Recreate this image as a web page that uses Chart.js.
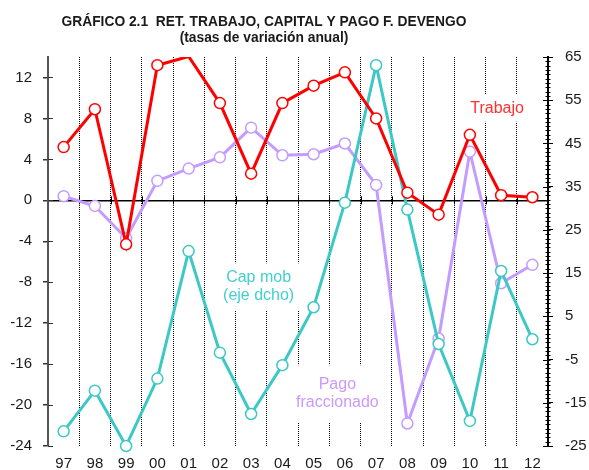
<!DOCTYPE html>
<html><head><meta charset="utf-8">
<script src="https://cdn.jsdelivr.net/npm/chart.js@4/dist/chart.umd.min.js"></script>
<style>html,body{margin:0;padding:0;background:#fff}canvas{display:block}</style>
</head><body>
<canvas id="c" width="589" height="470"></canvas>
<script>
const categories = ['97','98','99','00','01','02','03','04','05','06','07','08','09','10','11','12'];
const trabajo = [5.2, 8.9, -4.3, 13.2, 14.05, 9.5, 2.6, 9.5, 11.2, 12.5, 8.0, 0.75, -1.4, 6.4, 0.5, 0.3];
const pagoFraccionado = [0.4, -0.55, -3.7, 1.9, 3.1, 4.2, 7.1, 4.4, 4.5, 5.55, 1.5, -21.8, -13.5, 4.75, -8.1, -6.3];
const capMob = [-21.6, -12.2, -25.0, -9.4, 20.1, -3.4, -17.6, -6.3, 7.1, 31.3, 63.1, 29.7, -1.4, -19.2, 15.5, -0.3];
const leftTicks = [-24, -20, -16, -12, -8, -4, 0, 4, 8, 12];
const rightTicks = [-25, -15, -5, 5, 15, 25, 35, 45, 55, 65];
const titleLines = ['GRÁFICO 2.1  RET. TRABAJO, CAPITAL Y PAGO F. DEVENGO', '(tasas de variación anual)'];
const labelTrabajo = ['Trabajo'];
const labelCapMob = ['Cap mob', '(eje dcho)'];
const labelPago = ['Pago', 'fraccionado'];

const RED = '#ff0000', PURPLE = '#c49cff', TEAL = '#3cc8c4';
const tickFont = {family: "'Liberation Sans', Arial, sans-serif", size: 15};

const decor = {
  id: 'decor',
  beforeDatasetsDraw(chart) {
    const {ctx, chartArea: a, scales: {x, y, y1}} = chart;
    ctx.save();
    const seg = (x1, y1p, x2, y2p) => { ctx.beginPath(); ctx.moveTo(x1, y1p); ctx.lineTo(x2, y2p); ctx.stroke(); };
    const y0 = y.getPixelForValue(0);
    ctx.strokeStyle = '#000'; ctx.lineWidth = 1;
    for (let i = 0; i < categories.length - 1; i++) {
      const px = Math.round(x.getPixelForValue(i + 0.5)) + 0.5;
      seg(px, y0 - 4, px, y0 + 4);
    }
    ctx.strokeStyle = '#333';
    leftTicks.forEach(v => { const py = Math.round(y.getPixelForValue(v)) + 0.5; seg(a.left, py, a.left + 5, py); });
    ctx.strokeStyle = '#000';
    rightTicks.forEach(v => { const py = Math.round(y1.getPixelForValue(v)) + 0.5; seg(a.right - 5, py, a.right, py); });
    ctx.strokeStyle = '#000'; ctx.lineWidth = 1;
    for (let v = rightTicks[0]; v <= rightTicks[rightTicks.length - 1]; v += 1) {
      const py = Math.round(y1.getPixelForValue(v)) + 0.5;
      seg(a.right - 2.5, py, a.right + 2.5, py);
    }
    const drawLabel = (lines, xi, yv, color, box) => {
      const cx = x.getPixelForValue(xi), cy = y.getPixelForValue(yv);
      ctx.fillStyle = '#fff';
      ctx.fillRect(cx - box[0] / 2, cy - box[1] / 2, box[0], box[1]);
      ctx.fillStyle = color;
      ctx.font = "16px 'Liberation Sans', Arial, sans-serif";
      ctx.textAlign = 'center'; ctx.textBaseline = 'middle';
      const lh = 18;
      lines.forEach((t, k) => ctx.fillText(t, cx, cy + (k - (lines.length - 1) / 2) * lh));
    };
    drawLabel(labelTrabajo, 13.87, 9.0, '#ff3030', [66, 27]);
    drawLabel(labelCapMob, 6.24, -8.45, '#45cfcf', [88, 47]);
    drawLabel(labelPago, 8.76, -18.9, '#cc99ff', [94, 57]);
    ctx.restore();
  },
  afterDraw(chart) {
    const {ctx} = chart;
    ctx.save();
    ctx.fillStyle = '#1a1a1a';
    ctx.textAlign = 'center'; ctx.textBaseline = 'middle';
    ctx.font = "bold 13.8px 'Liberation Sans', Arial, sans-serif";
    ctx.fillText(titleLines[0], 264, 22);
    ctx.fillText(titleLines[1], 264, 38.5);
    ctx.restore();
  }
};

const pointR = (c) => (c.raw > 14 ? 0 : 5.5);

new Chart(document.getElementById('c'), {
  type: 'line',
  data: {
    labels: categories,
    datasets: [
      {label: 'Trabajo', data: trabajo, yAxisID: 'y', borderColor: RED, borderWidth: 3,
       pointBackgroundColor: '#fff', pointBorderColor: RED, pointBorderWidth: 1.5, pointRadius: pointR, tension: 0},
      {label: 'Cap mob (eje dcho)', data: capMob, yAxisID: 'y1', borderColor: TEAL, borderWidth: 3, clip: 8,
       pointBackgroundColor: '#fff', pointBorderColor: TEAL, pointBorderWidth: 1.5, pointRadius: 5.5, tension: 0},
      {label: 'Pago fraccionado', data: pagoFraccionado, yAxisID: 'y', borderColor: PURPLE, borderWidth: 3, clip: 8,
       pointBackgroundColor: '#fff', pointBorderColor: PURPLE, pointBorderWidth: 1.5, pointRadius: 5.5, tension: 0}
    ]
  },
  options: {
    responsive: false,
    animation: false,
    layout: {padding: {top: 57, left: 0, right: 0, bottom: 0}},
    plugins: {legend: {display: false}, title: {display: false}, tooltip: {enabled: false}},
    scales: {
      x: {
        offset: true,
        grid: {offset: true, color: (c) => (c.index === 0 || c.index >= categories.length ? 'transparent' : '#000'), lineWidth: 1, drawTicks: false},
        border: {display: false, dash: [1, 1]},
        ticks: {color: '#1a1a1a', font: tickFont, padding: 9, maxRotation: 0, autoSkip: false},
        afterFit: (s) => { s.height = 24; }
      },
      y: {
        position: 'left', min: -24, max: 14,
        afterBuildTicks: (s) => { s.ticks = leftTicks.map(v => ({value: v})); },
        grid: {color: (c) => (c.tick && c.tick.value === 0 ? '#000' : 'transparent'), lineWidth: 1.5, tickColor: '#333', tickLength: 5},
        border: {display: true, color: '#555', width: 2},
        ticks: {color: '#1a1a1a', font: tickFont, padding: 11},
        afterFit: (s) => { s.width = 48; }
      },
      y1: {
        position: 'right', min: -25, max: 65,
        afterBuildTicks: (s) => { s.ticks = rightTicks.map(v => ({value: v})); },
        grid: {drawOnChartArea: false, tickColor: '#000', tickLength: 5},
        border: {display: true, color: '#000', width: 2},
        ticks: {color: '#1a1a1a', font: tickFont, padding: 12},
        afterFit: (s) => { s.width = 41; }
      }
    }
  },
  plugins: [decor]
});
</script>
</body></html>
